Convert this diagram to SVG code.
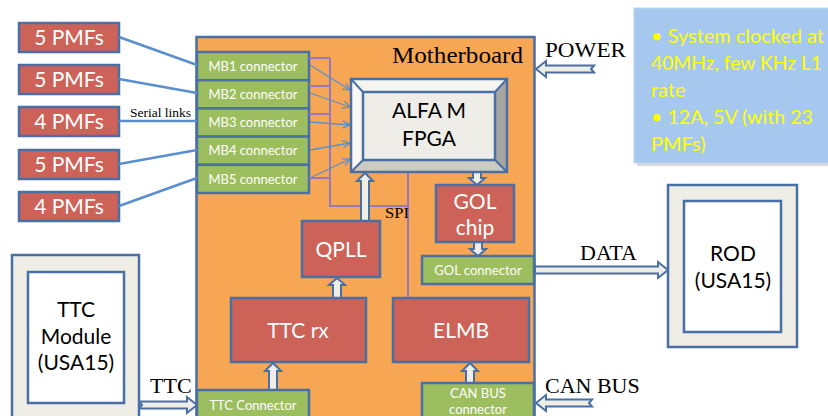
<svg xmlns="http://www.w3.org/2000/svg" width="828" height="416" viewBox="0 0 828 416">
<style>
.red{fill:#CD6358;stroke:#4A6FA5;stroke-width:2.5}
.grn{fill:#9DBE5E;stroke:#4A6FA5;stroke-width:2.5}
.gray{fill:#EEEDE6;stroke:#4A6FA5;stroke-width:2.5}
.wht{fill:#FFFFFF;stroke:#4A6FA5;stroke-width:2.5}
.ba{fill:#EEEDE6;stroke:#4A6FA5;stroke-width:2;stroke-linejoin:miter}
.big{font-family:Lato,"Liberation Sans",sans-serif;font-size:21px;fill:#FFFFFF;text-anchor:middle}
.sm{font-family:Lato,"Liberation Sans",sans-serif;font-size:13px;fill:#FFFFFF;text-anchor:middle}
.blk{font-family:Lato,"Liberation Sans",sans-serif;font-size:21px;fill:#000000;text-anchor:middle}
.ser{font-family:"Liberation Serif",serif;fill:#000000}
.link{stroke:#5A8FCF;stroke-width:2.5;fill:none}
.thin{stroke:#5A8FCF;stroke-width:1.3;fill:none}
.pur{stroke:#9678BE;stroke-width:2;fill:none}
.info{font-family:Lato,"Liberation Sans",sans-serif;font-size:20px;fill:#FFFF00}
</style>
<defs>
<marker id="oa" viewBox="0 0 10 10" refX="9" refY="5" markerWidth="9" markerHeight="9" markerUnits="userSpaceOnUse" orient="auto">
<path d="M1,1 L9,5 L1,9" fill="none" stroke="#5A8FCF" stroke-width="1.4"/>
</marker>
</defs>

<g id="motherboard">
<rect x="196.5" y="37" width="338" height="400" fill="#F7A654" stroke="#4A6FA5" stroke-width="2.5"/>
<text class="ser" x="392" y="63" font-size="24" textLength="131" lengthAdjust="spacingAndGlyphs">Motherboard</text>
</g>

<g id="info">
<rect x="637" y="11" width="200" height="155" fill="#B8B8B8" opacity="0.5"/>
<rect x="634" y="8" width="200" height="155" fill="#A6C8EE" stroke="#BCD5F2" stroke-width="1"/>
<text class="info" x="651" y="43" textLength="173" lengthAdjust="spacingAndGlyphs">• System clocked at</text>
<text class="info" x="651" y="70" textLength="171" lengthAdjust="spacingAndGlyphs">40MHz, few KHz L1</text>
<text class="info" x="651" y="97">rate</text>
<text class="info" x="651" y="124" textLength="162" lengthAdjust="spacingAndGlyphs">• 12A, 5V (with 23</text>
<text class="info" x="651" y="151">PMFs)</text>
</g>

<g id="pmf1"><rect class="red" x="19" y="23" width="100" height="29"/><text class="big" x="69" y="45">5 PMFs</text></g>
<g id="pmf2"><rect class="red" x="19" y="65" width="100" height="29"/><text class="big" x="69" y="87">5 PMFs</text></g>
<g id="pmf3"><rect class="red" x="19" y="107" width="100" height="29"/><text class="big" x="69" y="129">4 PMFs</text></g>
<g id="pmf4"><rect class="red" x="19" y="150" width="100" height="29"/><text class="big" x="69" y="172">5 PMFs</text></g>
<g id="pmf5"><rect class="red" x="19" y="192" width="100" height="29"/><text class="big" x="69" y="214">4 PMFs</text></g>

<g id="mb1"><rect class="grn" x="197" y="52" width="112" height="28.2"/><text class="sm" x="253" y="71">MB1 connector</text></g>
<g id="mb2"><rect class="grn" x="197" y="80.2" width="112" height="28.2"/><text class="sm" x="253" y="99">MB2 connector</text></g>
<g id="mb3"><rect class="grn" x="197" y="108.4" width="112" height="28.2"/><text class="sm" x="253" y="127">MB3 connector</text></g>
<g id="mb4"><rect class="grn" x="197" y="136.6" width="112" height="28.2"/><text class="sm" x="253" y="155">MB4 connector</text></g>
<g id="mb5"><rect class="grn" x="197" y="164.8" width="112" height="28.2"/><text class="sm" x="253" y="184">MB5 connector</text></g>

<g id="connectors">
<line class="link" x1="119" y1="37" x2="197" y2="65"/>
<line class="link" x1="119" y1="79" x2="197" y2="93"/>
<line class="link" x1="119" y1="121" x2="197" y2="121"/>
<line class="link" x1="119" y1="164" x2="197" y2="150"/>
<line class="link" x1="119" y1="206" x2="197" y2="178"/>
<path class="pur" d="M309,58 H330 M309,86 H330 M309,114 H330 M309,178 H330 M330,58 V206 H408 M408,172 V298"/>
<line class="thin" x1="310" y1="65" x2="350" y2="90" marker-end="url(#oa)"/>
<line class="thin" x1="310" y1="93" x2="350" y2="107" marker-end="url(#oa)"/>
<line class="thin" x1="310" y1="122" x2="350" y2="125" marker-end="url(#oa)"/>
<line class="thin" x1="310" y1="150" x2="350" y2="143" marker-end="url(#oa)"/>
<line class="thin" x1="310" y1="178" x2="350" y2="159" marker-end="url(#oa)"/>
<path class="ba" d="M361,221 L361,181 L357,181 L365,173 L373,181 L369,181 L369,221 Z"/>
<path class="ba" d="M333,298 L333,285 L329,285 L337,278 L345,285 L341,285 L341,298 Z"/>
<path class="ba" d="M269,390 L269,371 L265,371 L273,363 L281,371 L277,371 L277,390 Z"/>
<path class="ba" d="M466,383 L466,371 L462,371 L470,363 L478,371 L474,371 L474,383 Z"/>
<path class="ba" d="M473,172 L473,178 L469,178 L477,185 L485,178 L481,178 L481,172 Z"/>
<path class="ba" d="M474,242 L474,249 L470,249 L478,256 L486,249 L482,249 L482,242 Z"/>
<path class="ba" d="M594,65.5 L546,65.5 L546,61 L536,69 L546,77 L546,72.5 L594,72.5 L591,69 Z"/>
<path class="ba" d="M535,266.5 L658,266.5 L658,262 L668,270 L658,278 L658,273.5 L535,273.5 Z"/>
<path class="ba" d="M592,399.5 L546,399.5 L546,395 L536,403 L546,411 L546,406.5 L592,406.5 L589,403 Z"/>
<path class="ba" d="M139,401.5 L187,401.5 L187,397 L197,405 L187,413 L187,408.5 L139,408.5 L142,405 Z"/>
<text class="ser" x="130" y="117" font-size="13" textLength="61" lengthAdjust="spacingAndGlyphs">Serial links</text>
<text class="ser" x="385" y="218" font-size="15" textLength="24" lengthAdjust="spacingAndGlyphs">SPI</text>
<text class="ser" x="545" y="57" font-size="21" textLength="81" lengthAdjust="spacingAndGlyphs">POWER</text>
<text class="ser" x="580" y="260" font-size="22">DATA</text>
<text class="ser" x="545" y="393" font-size="22">CAN BUS</text>
<text class="ser" x="150" y="393" font-size="22">TTC</text>
</g>

<g id="fpga">
<rect x="351" y="79" width="156" height="93" fill="#EEEDE7"/>
<polygon points="351,79 507,79 495,92 363,92" fill="#F5F4EF"/>
<polygon points="351,79 363,92 363,160 351,172" fill="#F8F7F3"/>
<polygon points="507,79 507,172 495,160 495,92" fill="#A6A6A0"/>
<polygon points="351,172 507,172 495,160 363,160" fill="#CBCAC3"/>
<rect x="363" y="92" width="132" height="68" fill="#EEEDE7" stroke="#4A6FA5" stroke-width="2.5"/>
<path d="M351,79 L363,92 M507,79 L495,92 M507,172 L495,160 M351,172 L363,160" stroke="#4A6FA5" stroke-width="2"/>
<rect x="351" y="79" width="156" height="93" fill="none" stroke="#4A6FA5" stroke-width="2.5"/>
<text class="blk" x="429" y="118">ALFA M</text>
<text class="blk" x="429" y="146">FPGA</text>
</g>

<g id="gol"><rect class="red" x="436" y="185" width="78" height="57"/><text class="big" x="475" y="209">GOL</text><text class="big" x="475" y="235">chip</text></g>
<g id="golconn"><rect class="grn" x="422" y="256" width="112" height="28"/><text class="sm" x="478" y="275">GOL connector</text></g>
<g id="qpll"><rect class="red" x="302" y="221" width="78" height="56"/><text class="big" x="341" y="257">QPLL</text></g>
<g id="ttcrx"><rect class="red" x="231" y="298" width="135" height="64"/><text class="big" x="298" y="338">TTC rx</text></g>
<g id="elmb"><rect class="red" x="393" y="298" width="136" height="64"/><text class="big" x="461" y="338">ELMB</text></g>
<g id="ttcconn"><rect class="grn" x="197" y="390" width="112" height="40"/><text class="sm" x="253" y="410">TTC Connector</text></g>
<g id="canconn"><rect class="grn" x="422" y="383" width="112" height="45"/><text class="sm" x="478" y="398">CAN BUS</text><text class="sm" x="478" y="414">connector</text></g>

<g id="rod">
<rect class="gray" x="668" y="185" width="129" height="162"/>
<rect class="wht" x="684" y="201" width="97" height="131"/>
<text class="blk" x="733" y="261">ROD</text>
<text class="blk" x="733" y="288">(USA15)</text>
</g>

<g id="ttcmodule">
<rect class="gray" x="12" y="255" width="127" height="180"/>
<rect class="wht" x="28" y="272" width="96" height="131"/>
<text class="blk" x="76" y="317">TTC</text>
<text class="blk" x="76" y="344">Module</text>
<text class="blk" x="76" y="370">(USA15)</text>
</g>
</svg>
